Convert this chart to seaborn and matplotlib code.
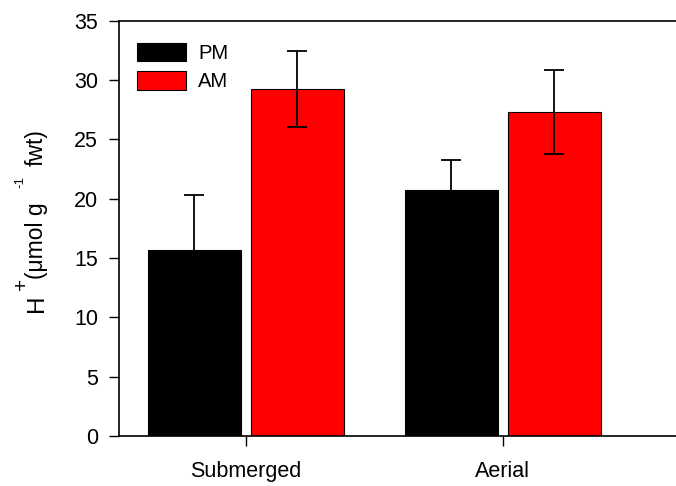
import matplotlib
matplotlib.use("Agg")
import matplotlib.pyplot as plt
import seaborn as sns
import pandas as pd

# Proton content by growth form and sampling time
sites = ["Submerged", "Aerial"]
times = ["PM", "AM"]
pm_mean = [15.7, 20.7]
am_mean = [29.25, 27.3]
pm_se = [4.6, 2.6]
am_se = [3.2, 3.55]
y_ticks = [0, 5, 10, 15, 20, 25, 30, 35]

df = pd.DataFrame({
    "site": sites * 2,
    "time": [times[0]] * 2 + [times[1]] * 2,
    "value": pm_mean + am_mean,
})
se_by_time = {"PM": pm_se, "AM": am_se}

sns.set_style("ticks")
plt.rcParams["font.family"] = ["Liberation Sans", "DejaVu Sans"]
plt.rcParams["text.color"] = "black"

W, H = 676, 486
fig = plt.figure(figsize=(W / 100, H / 100), dpi=100)
ax = fig.add_axes([119 / W, 50 / H, (W - 119) / W, 415.3 / H])

sns.barplot(data=df, x="site", y="value", hue="time", order=sites,
            hue_order=times, palette=["#000000", "#ff0000"], saturation=1,
            errorbar=None, width=0.8, gap=0.095, edgecolor="black",
            linewidth=0.8, ax=ax)

# error bars (mean ± SE) on top of each bar
for cont, t in zip(ax.containers, times):
    for bar, se in zip(cont, se_by_time[t]):
        cx = bar.get_x() + bar.get_width() / 2
        ax.errorbar(cx, bar.get_height(), yerr=se, fmt="none",
                    ecolor="black", elinewidth=1.3, capsize=7.2,
                    capthick=1.3, zorder=5)

ax.set_xlim(-0.493, 1.674)
ax.set_ylim(0, 35)
ax.set_yticks(y_ticks)
ax.set_xlabel("")
ax.set_ylabel("")
ax.tick_params(axis="both", direction="out", length=7, width=1,
               labelsize=15.5, colors="black")
ax.tick_params(axis="y", pad=8)
ax.tick_params(axis="x", pad=11)
for side in ["left", "bottom", "top"]:
    ax.spines[side].set_visible(True)
    ax.spines[side].set_linewidth(1.2)
    ax.spines[side].set_color("black")
ax.spines["right"].set_visible(False)

leg = ax.legend(loc="upper left", bbox_to_anchor=(137 / W, 1 - 42.5 / H),
                bbox_transform=fig.transFigure, frameon=False,
                fontsize=14.5, handlelength=2.45, handleheight=1.05,
                handletextpad=0.6, labelspacing=0.42, borderpad=0,
                borderaxespad=0, labelcolor="black")
for h in leg.legend_handles:
    h.set_edgecolor("black")
    h.set_linewidth(0.8)

# y-axis label assembled from pieces of different sizes
def ylab(text, x, y, size):
    fig.text(x / W, 1 - y / H, text, rotation=90, rotation_mode="anchor",
             ha="left", va="baseline", fontsize=size, color="black")

ylab("H", 43, 312, 17.5)
ylab("+", 27.5, 290, 15)
ylab("(\u03bcmol g", 43, 279, 16.5)
ylab("-1", 23.5, 188, 9.5)
ylab("fwt)", 43, 166, 16.5)

fig.savefig("out.png", dpi=100)
